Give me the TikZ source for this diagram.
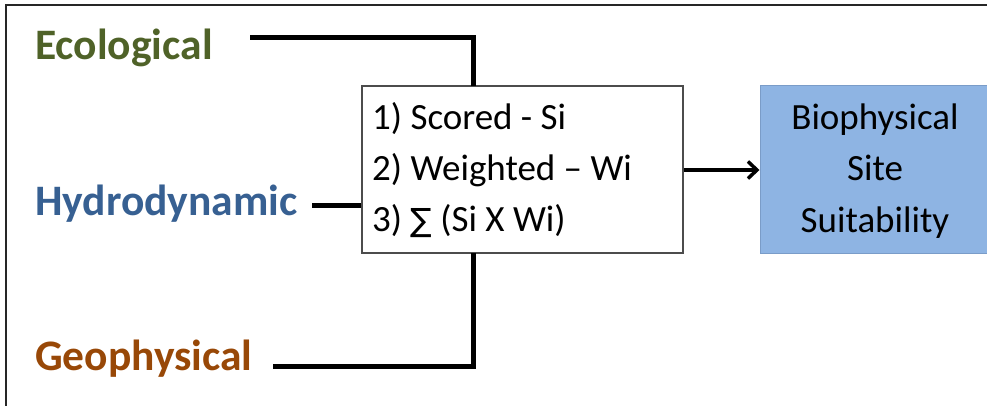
\documentclass[tikz,border=0pt]{standalone}
\usepackage{fontspec}
\setmainfont{Carlito}
\newfontfamily\symfont{DejaVu Sans}
\usetikzlibrary{arrows.meta}
\definecolor{ecogreen}{HTML}{4F6228}
\definecolor{hydblue}{HTML}{376092}
\definecolor{geobrown}{HTML}{984807}
\definecolor{suitfill}{HTML}{8EB4E3}
\definecolor{suitborder}{HTML}{7A9CC8}
\tikzset{
  framestyle/.style={line width=2pt, draw=black!85},
  catlabel/.style={font=\fontsize{43.5}{50}\selectfont\bfseries, inner sep=0pt, anchor=base west},
  boxtext/.style={font=\fontsize{37}{44}\selectfont, inner sep=0pt},
  conn/.style={line width=5pt, draw=black},
  procbox/.style={draw=black!70, line width=1.5pt, fill=white, minimum width=321pt, minimum height=167pt, inner sep=0pt},
  suitbox/.style={draw=suitborder, line width=1pt, fill=suitfill, minimum width=229pt, minimum height=167pt, inner sep=0pt},
  arrowline/.style={line width=3.5pt, -{Straight Barb[length=9pt,width=17pt]}}
}
\begin{document}
\begin{tikzpicture}[x=1pt,y=-1pt]
\useasboundingbox (0,0) rectangle (987,406);
\coordinate (fbl) at (6,406);
\coordinate (ftl) at (6,5);
\coordinate (ftr) at (987,5);
\draw[framestyle] (fbl) -- (ftl) -- (ftr);

\node[procbox] (proc) at (522.5,169.5) {};
\node[suitbox] (suit) at (874.5,169.5) {};

\node[catlabel, text=ecogreen] (eco) at (35,60) {Ecological};
\node[catlabel, text=hydblue] (hyd) at (35,215) {Hydrodynamic};
\node[catlabel, text=geobrown] (geo) at (35,370) {Geophysical};

\node[boxtext, anchor=base west] (s1) at (372,130) {1) Scored - Si};
\node[boxtext, anchor=base west] (s2) at (372,181) {2) Weighted – Wi};
\node[boxtext, anchor=base west] (s3) at (372,231) {3) {\symfont\fontsize{32}{36}\selectfont ∑} (Si X Wi)};

\node[boxtext, anchor=base] (b1) at (875,130) {Biophysical};
\node[boxtext, anchor=base] (b2) at (875,181) {Site};
\node[boxtext, anchor=base] (b3) at (875,232) {Suitability};

\coordinate (ecoend) at (250,38);
\coordinate (topin) at (473,86);
\coordinate (hydend) at (312,205);
\coordinate (geoend) at (273,366);
\coordinate (botin) at (473,253);

\draw[conn] (ecoend) -| (topin);
\draw[conn] (hydend) -- (hydend -| proc.west);
\draw[conn] (geoend) -| (botin);
\draw[arrowline] (proc.east |- 0,170) -- (suit.west |- 0,170);
\end{tikzpicture}
\end{document}
